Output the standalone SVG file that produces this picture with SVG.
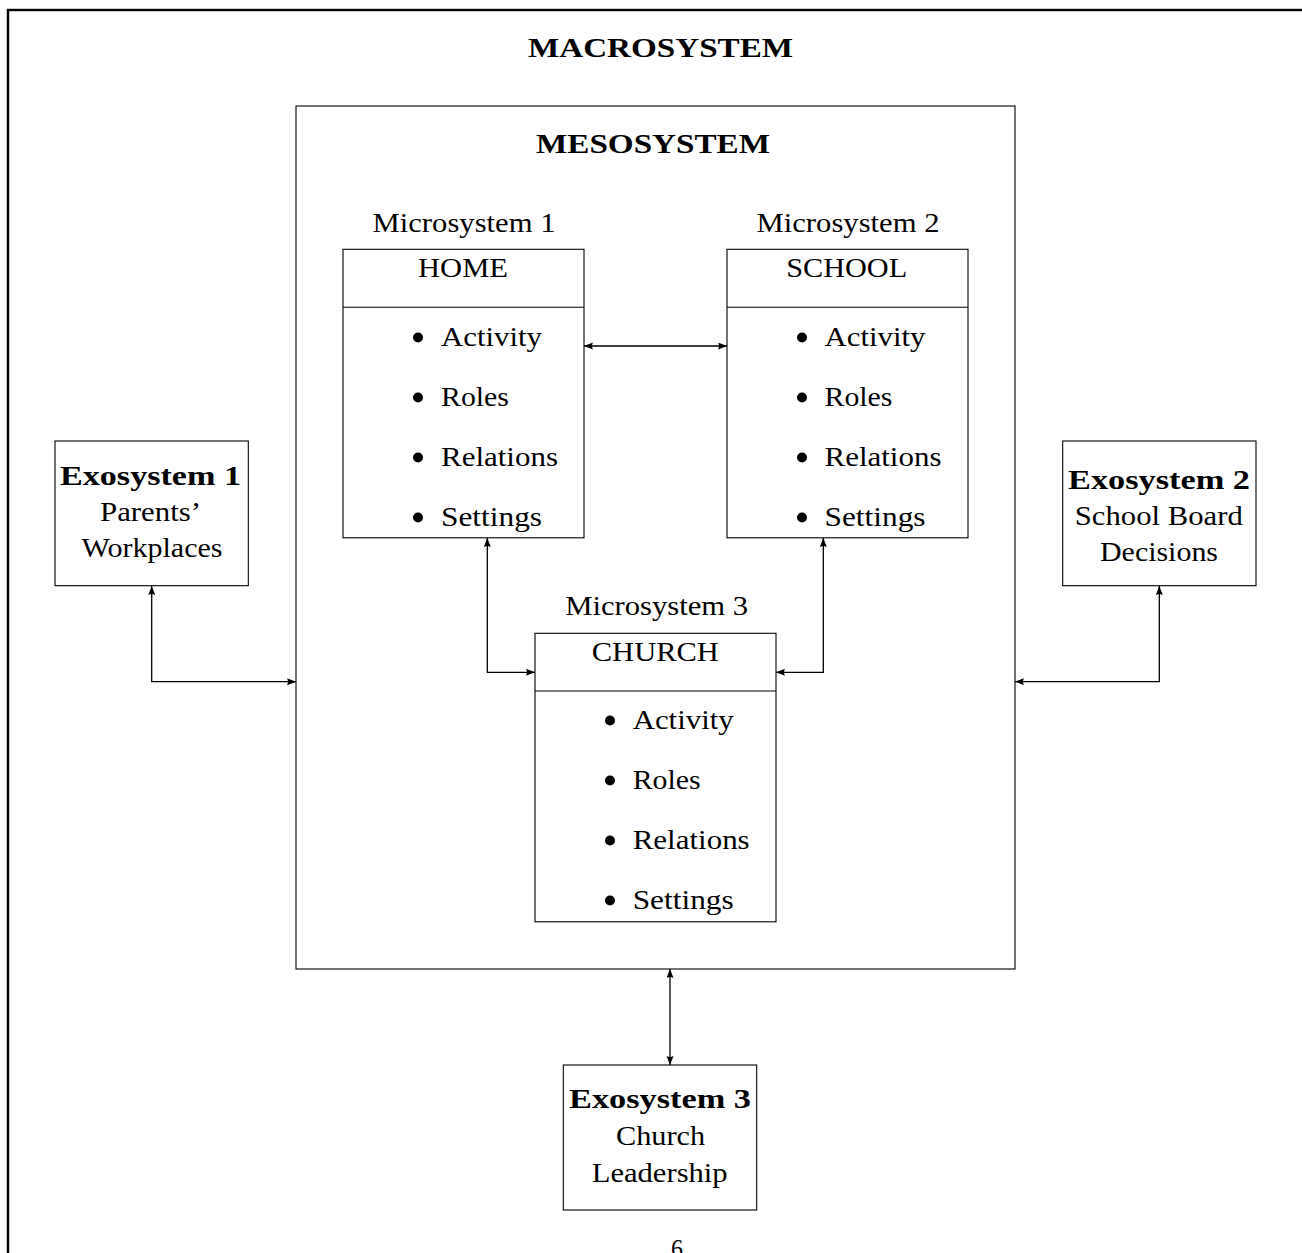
<svg xmlns="http://www.w3.org/2000/svg" width="1302" height="1253" viewBox="0 0 1302 1253">
<defs>
<marker id="ah" markerUnits="userSpaceOnUse" markerWidth="10" markerHeight="8" refX="9" refY="3.5" orient="auto-start-reverse">
<path d="M0,0 L9,3.5 L0,7 Q2,3.5 0,0 z" fill="#000"/>
</marker>
<style>
.box{fill:none;stroke:#000;stroke-width:1.1}
.frame{fill:none;stroke:#000;stroke-width:2.4}
.t{font-family:"Liberation Serif","DejaVu Serif",serif;font-size:27px;fill:#000}
.b{font-weight:bold}
.m{text-anchor:middle}
.conn path{fill:none;stroke:#000;stroke-width:1.3;marker-start:url(#ah);marker-end:url(#ah)}
.dot{fill:#000}
</style>
</defs>
<rect width="1302" height="1253" fill="#fff"/>

<g id="macrosystem">
<rect class="frame" x="8" y="10" width="1310" height="1300"/>
<text class="t b m" x="660.5" y="57" font-size="30" textLength="265" lengthAdjust="spacingAndGlyphs">MACROSYSTEM</text>
<text class="t m" x="677" y="1258" textLength="12" lengthAdjust="spacingAndGlyphs">6</text>
</g>

<g id="mesosystem">
<rect class="box" x="296" y="106" width="719" height="863"/>
<text class="t b m" x="653" y="153" font-size="30" textLength="234" lengthAdjust="spacingAndGlyphs">MESOSYSTEM</text>
</g>

<g id="micro1">
<text class="t m" x="464" y="231.7" textLength="183" lengthAdjust="spacingAndGlyphs">Microsystem 1</text>
<rect class="box" x="343" y="249.3" width="241" height="288.5"/>
<line class="box" x1="343" y1="307.3" x2="584" y2="307.3"/>
<text class="t m" x="463" y="277.3" textLength="90" lengthAdjust="spacingAndGlyphs">HOME</text>
<circle class="dot" cx="418" cy="337.5" r="5"/>
<text class="t" x="441" y="345.5" textLength="101" lengthAdjust="spacingAndGlyphs">Activity</text>
<circle class="dot" cx="418" cy="397.5" r="5"/>
<text class="t" x="441" y="405.5" textLength="68" lengthAdjust="spacingAndGlyphs">Roles</text>
<circle class="dot" cx="418" cy="457.5" r="5"/>
<text class="t" x="441" y="465.5" textLength="117" lengthAdjust="spacingAndGlyphs">Relations</text>
<circle class="dot" cx="418" cy="517.5" r="5"/>
<text class="t" x="441" y="525.5" textLength="101" lengthAdjust="spacingAndGlyphs">Settings</text>
</g>

<g id="micro2">
<text class="t m" x="848" y="231.7" textLength="183" lengthAdjust="spacingAndGlyphs">Microsystem 2</text>
<rect class="box" x="727" y="249.3" width="241" height="288.5"/>
<line class="box" x1="727" y1="307.3" x2="968" y2="307.3"/>
<text class="t m" x="846.7" y="277" textLength="121" lengthAdjust="spacingAndGlyphs">SCHOOL</text>
<circle class="dot" cx="802" cy="337.5" r="5"/>
<text class="t" x="824.5" y="345.5" textLength="101" lengthAdjust="spacingAndGlyphs">Activity</text>
<circle class="dot" cx="802" cy="397.5" r="5"/>
<text class="t" x="824.5" y="405.5" textLength="68" lengthAdjust="spacingAndGlyphs">Roles</text>
<circle class="dot" cx="802" cy="457.5" r="5"/>
<text class="t" x="824.5" y="465.5" textLength="117" lengthAdjust="spacingAndGlyphs">Relations</text>
<circle class="dot" cx="802" cy="517.5" r="5"/>
<text class="t" x="824.5" y="525.5" textLength="101" lengthAdjust="spacingAndGlyphs">Settings</text>
</g>

<g id="micro3">
<text class="t m" x="656.7" y="615" textLength="183" lengthAdjust="spacingAndGlyphs">Microsystem 3</text>
<rect class="box" x="535" y="633.3" width="241" height="288.5"/>
<line class="box" x1="535" y1="691" x2="776" y2="691"/>
<text class="t m" x="655.3" y="660.7" textLength="127" lengthAdjust="spacingAndGlyphs">CHURCH</text>
<circle class="dot" cx="610" cy="720.5" r="5"/>
<text class="t" x="632.7" y="728.5" textLength="101" lengthAdjust="spacingAndGlyphs">Activity</text>
<circle class="dot" cx="610" cy="780.5" r="5"/>
<text class="t" x="632.7" y="788.5" textLength="68" lengthAdjust="spacingAndGlyphs">Roles</text>
<circle class="dot" cx="610" cy="840.5" r="5"/>
<text class="t" x="632.7" y="848.5" textLength="117" lengthAdjust="spacingAndGlyphs">Relations</text>
<circle class="dot" cx="610" cy="900.5" r="5"/>
<text class="t" x="632.7" y="908.5" textLength="101" lengthAdjust="spacingAndGlyphs">Settings</text>
</g>

<g id="exo1">
<rect class="box" x="55" y="441" width="193.3" height="144.7"/>
<text class="t b m" x="150.5" y="485" textLength="181" lengthAdjust="spacingAndGlyphs">Exosystem 1</text>
<text class="t m" x="150.5" y="521" textLength="101" lengthAdjust="spacingAndGlyphs">Parents’</text>
<text class="t m" x="152" y="557" textLength="141" lengthAdjust="spacingAndGlyphs">Workplaces</text>
</g>

<g id="exo2">
<rect class="box" x="1062.7" y="441" width="193.3" height="144.7"/>
<text class="t b m" x="1159" y="488.5" textLength="182" lengthAdjust="spacingAndGlyphs">Exosystem 2</text>
<text class="t m" x="1158.8" y="524.5" textLength="168" lengthAdjust="spacingAndGlyphs">School Board</text>
<text class="t m" x="1159" y="560.5" textLength="118" lengthAdjust="spacingAndGlyphs">Decisions</text>
</g>

<g id="exo3">
<rect class="box" x="563.3" y="1065" width="193.4" height="145"/>
<text class="t b m" x="660" y="1108.3" textLength="182" lengthAdjust="spacingAndGlyphs">Exosystem 3</text>
<text class="t m" x="660.5" y="1145" textLength="89" lengthAdjust="spacingAndGlyphs">Church</text>
<text class="t m" x="659.7" y="1181.7" textLength="136" lengthAdjust="spacingAndGlyphs">Leadership</text>
</g>

<g id="connectors" class="conn">
<path d="M584,346 H727"/>
<path d="M487.3,538 V672.3 H535"/>
<path d="M823.3,538 V672.3 H776"/>
<path d="M151.7,586 V681.7 H296"/>
<path d="M1159.3,586 V681.7 H1015"/>
<path d="M670,969 V1065"/>
</g>
</svg>
